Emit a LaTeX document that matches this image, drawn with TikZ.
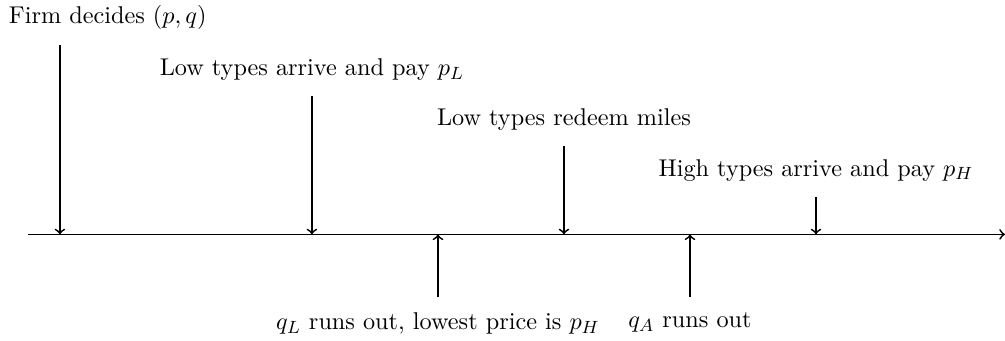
\documentclass[tikz,border=0pt]{standalone}
\usepackage{amsmath,amssymb}
\usepackage{tikz}
\usetikzlibrary{positioning,calc}

\begin{document}
\begin{tikzpicture}[
    every node/.style={font=\fontsize{10.95}{13.6}\selectfont},
    event/.style={above=1.2mm},
    shock/.style={below=1.2mm},
    tick/.style={thick, ->}
  ]
  \useasboundingbox (-0.95,-1.68) rectangle (15,3.72);

  % time line
  \coordinate (T0) at (-0.5,0);
  \coordinate (T1) at (15,0);
  \draw[thick, ->] (T0) -- (T1);

  % events above the line
  \coordinate (firmtop) at (0,3);
  \coordinate (firmax) at (0,0);
  \node[event] (firm) at (0.76,3) {Firm decides $(p,q)$};
  \draw[tick] (firmtop) -- (firmax);

  \coordinate (lowtop) at (4,2.2);
  \coordinate (lowax) at (4,0);
  \node[event] (low) at (lowtop) {Low types arrive and pay $p_L$};
  \draw[tick] (lowtop) -- (lowax);

  \coordinate (redtop) at (8,1.4);
  \coordinate (redax) at (8,0);
  \node[event] (redeem) at (redtop) {Low types redeem miles};
  \draw[tick] (redtop) -- (redax);

  \coordinate (hightop) at (12,0.6);
  \coordinate (highax) at (12,0);
  \node[event] (high) at (hightop) {High types arrive and pay $p_H$};
  \draw[tick] (hightop) -- (highax);

  % events below the line
  \coordinate (qlbot) at (6,-1);
  \coordinate (qlax) at (6,0);
  \node[shock] (ql) at (qlbot) {$q_L$ runs out, lowest price is $p_H$};
  \draw[tick] (qlbot) -- (qlax);

  \coordinate (qabot) at (10,-1);
  \coordinate (qaax) at (10,0);
  \node[shock] (qa) at (qabot) {$q_A$ runs out};
  \draw[tick] (qabot) -- (qaax);
\end{tikzpicture}
\end{document}
